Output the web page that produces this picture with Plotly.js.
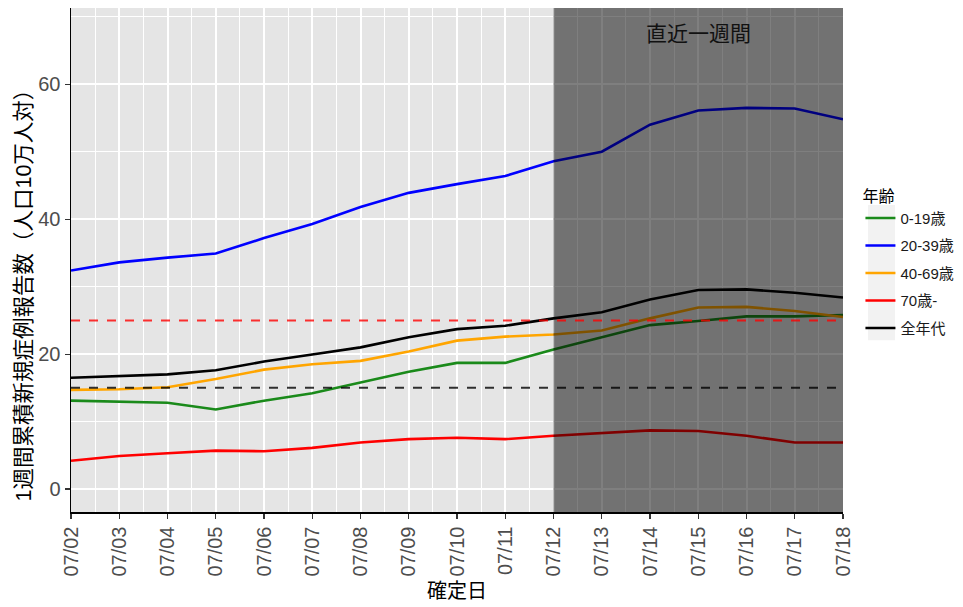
<!DOCTYPE html>
<html>
<head>
<meta charset="utf-8">
<script src="https://cdn.plot.ly/plotly-3.0.1.min.js"></script>
<style>html,body{margin:0;padding:0;background:#fff;}#chart{width:963px;height:607px;}</style>
</head>
<body>
<div id="chart"></div>
<script>
// Dates (確定日)
const dates = ["2020-07-02","2020-07-03","2020-07-04","2020-07-05","2020-07-06","2020-07-07","2020-07-08","2020-07-09","2020-07-10","2020-07-11","2020-07-12","2020-07-13","2020-07-14","2020-07-15","2020-07-16","2020-07-17","2020-07-18"];
// Series values (1週間累積新規症例報告数 per 100k)
const age0_19  = [13.1,13.0,12.8,11.8,13.1,14.2,15.8,17.4,18.7,18.7,20.7,22.5,24.3,24.9,25.6,25.6,25.8];
const age20_39 = [32.4,33.6,34.3,34.9,37.2,39.3,41.8,43.9,45.2,46.4,48.6,50.0,54.0,56.1,56.5,56.4,54.8];
const age40_69 = [14.7,14.8,15.1,16.3,17.7,18.5,19.0,20.4,22.0,22.6,22.9,23.5,25.3,26.9,27.0,26.4,25.5];
const age70    = [4.2,4.9,5.3,5.7,5.6,6.1,6.9,7.4,7.6,7.4,7.9,8.3,8.7,8.6,7.9,6.9,6.9];
const allAges  = [16.5,16.8,17.0,17.6,18.9,19.95,21.0,22.5,23.7,24.2,25.3,26.2,28.1,29.5,29.6,29.1,28.4];
const seriesNames = ["0-19歳","20-39歳","40-69歳","70歳-","全年代"];
const seriesColors = ["#1a8a1a","#0000ff","#ffa500","#ff0000","#000000"];
// Reference lines
const refLevels = [25, 15];
const refColors = ["rgba(255,0,0,0.8)","rgba(0,0,0,0.8)"];
// Highlight window
const recentStart = "2020-07-12";
const recentEnd = "2020-07-18";
const recentLabel = "直近一週間";
const yTitle = "1週間累積新規症例報告数（人口10万人対）";
const xTitle = "確定日";
const legendTitle = "年齢";

const seriesData = [age0_19, age20_39, age40_69, age70, allAges];
const traces = seriesData.map((vals, i) => ({
  type: "scatter", mode: "lines", x: dates, y: vals, name: seriesNames[i],
  legendgroup: "g" + i,
  line: {color: seriesColors[i], width: 2.6}
}));

const FONT = "Liberation Sans, Noto Sans CJK JP, sans-serif";
const shapes = [
  {type:"rect", xref:"x", yref:"paper", x0:recentStart, x1:recentEnd, y0:0, y1:1,
   fillcolor:"rgba(0,0,0,0.5)", line:{width:0}, layer:"above"},
  ...refLevels.map((v,i)=>({type:"line", xref:"paper", yref:"y", x0:0, x1:1, y0:v, y1:v,
   line:{color:refColors[i], width:2, dash:"dash"}, layer:"above"})),
  {type:"rect", xref:"paper", yref:"paper", x0:1.0324, x1:1.0674, y0:0.341, y1:0.609,
   fillcolor:"#f2f2f2", line:{width:0}, layer:"below"}
];

const layout = {
  width: 963, height: 607,
  margin: {l:71, r:120, t:8, b:95},
  paper_bgcolor: "#ffffff",
  plot_bgcolor: "#e5e5e5",
  font: {family: FONT, color:"#000"},
  showlegend: true,
  legend: {
    xref:"container", yref:"container",
    x: 0.8935, y: 0.702, xanchor:"left", yanchor:"top",
    title: {text:legendTitle, font:{size:16, color:"#000"}},
    font: {size:15, color:"#1a1a1a"},
    bgcolor:"rgba(0,0,0,0)", tracegroupgap: 5, itemwidth: 30
  },
  xaxis: {
    type:"date", range:["2020-07-02","2020-07-18"],
    tickformat:"%m/%d", dtick:86400000, tick0:"2020-07-02",
    tickangle:-90, tickfont:{size:20, color:"#4d4d4d", family:FONT},
    ticks:"outside", ticklen:5, tickcolor:"#333", tickwidth:1.2,
    showgrid:true, gridcolor:"#ffffff", gridwidth:2,
    minor:{dtick:43200000, showgrid:true, gridcolor:"#ffffff", gridwidth:1, ticks:""},
    showline:true, linecolor:"#000", linewidth:1.5, zeroline:false,
    title:{text:xTitle, font:{size:20, color:"#000"}, standoff:8}
  },
  yaxis: {
    range:[-3.4, 71.3], dtick:20, tick0:0,
    tickfont:{size:20, color:"#4d4d4d", family:FONT},
    ticks:"outside", ticklen:5, tickcolor:"#333", tickwidth:1.2,
    showgrid:true, gridcolor:"#ffffff", gridwidth:2,
    minor:{dtick:10, showgrid:true, gridcolor:"#ffffff", gridwidth:1, ticks:""},
    showline:true, linecolor:"#000", linewidth:1.5, zeroline:false
  },
  shapes: shapes,
  annotations: [
    {xref:"x", yref:"paper", x:"2020-07-15", y:0.95, text:recentLabel, showarrow:false,
     font:{size:21, color:"#111"}, xanchor:"center", yanchor:"middle"},
    {xref:"paper", yref:"paper", x:-0.0605, y:0.44, text:yTitle, showarrow:false, textangle:-90,
     font:{size:21.5, color:"#000"}, xanchor:"center", yanchor:"middle"}
  ]
};

Plotly.newPlot("chart", traces, layout, {displayModeBar:false, staticPlot:true});
</script>
</body>
</html>
